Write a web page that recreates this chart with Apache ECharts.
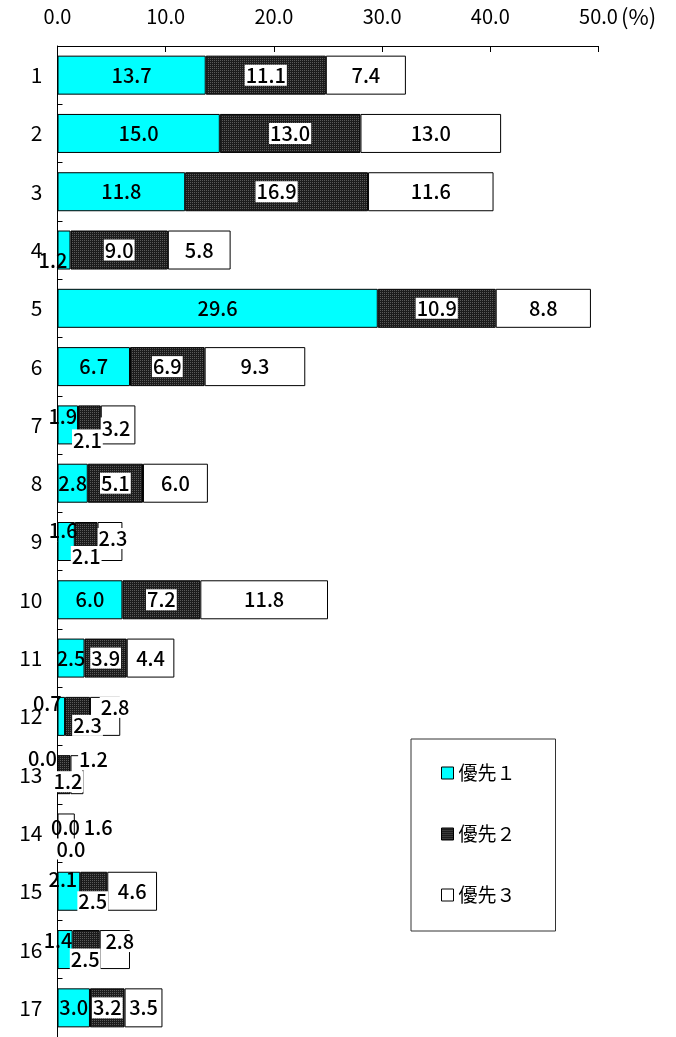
<!DOCTYPE html>
<html>
<head>
<meta charset="utf-8">
<script src="https://cdn.jsdelivr.net/npm/echarts@6/dist/echarts.min.js"></script>
<style>
  html, body { margin: 0; padding: 0; background: #fff; }
  #chart { width: 676px; height: 1037px; }
</style>
</head>
<body>
<div id="chart"></div>
<script>
// Item numbers (rows, top to bottom)
const categories = ['1','2','3','4','5','6','7','8','9','10','11','12','13','14','15','16','17'];
// Share (%) for each priority
const priority1 = [13.7, 15.0, 11.8, 1.2, 29.6, 6.7, 1.9, 2.8, 1.6, 6.0, 2.5, 0.7, 0.0, 0.0, 2.1, 1.4, 3.0];
const priority2 = [11.1, 13.0, 16.9, 9.0, 10.9, 6.9, 2.1, 5.1, 2.1, 7.2, 3.9, 2.3, 1.2, 0.0, 2.5, 2.5, 3.2];
const priority3 = [7.4, 13.0, 11.6, 5.8, 8.8, 9.3, 3.2, 6.0, 2.3, 11.8, 4.4, 2.8, 1.2, 1.6, 4.6, 2.8, 3.5];
const seriesNames = ['優先１', '優先２', '優先３'];
const xTicks = [0, 10, 20, 30, 40, 50];

const FONT = '"Noto Sans CJK JP", "Noto Sans", sans-serif';

// Label nudges for the narrow rows, where the value labels sit around the bar
// index -> [[dx,dy] for priority 1, priority 2, priority 3]
const nudges = {
  3:  [[-11, 10.5], null, null],
  6:  [[-5, -9], [-2, 15], [-2, 3]],
  8:  [[-3, -11], [0, 15], [3, -3]],
  11: [[-14, -12.5], [10, 9], [10, -9]],
  12: [[-15, -16], [4, 7], [16.5, -15]],
  13: [[8, -5.5], [13.5, 16], [32, -5.5]],
  14: [[-6, -11.5], [-1, 10.5], null],
  15: [[-7, -9], [-1, 9.5], [5, -8]]
};

// Dotted dark fill for priority 2
function makeDotPattern() {
  const c = document.createElement('canvas');
  c.width = 2; c.height = 2;
  const g = c.getContext('2d');
  g.fillStyle = '#1c1c1c';
  g.fillRect(0, 0, 2, 2);
  g.fillStyle = '#5a5a5a';
  g.fillRect(0, 0, 1, 1);
  return c;
}
const darkFill = { image: makeDotPattern(), repeat: 'repeat' };

const fills = ['#00ffff', darkFill, '#ffffff'];
const values = [priority1, priority2, priority3];

function buildData(k) {
  return values[k].map((v, i) => {
    const n = nudges[i] && nudges[i][k];
    const item = { value: v };
    if (n) item.label = { offset: n };
    return item;
  });
}

const series = values.map((vals, k) => ({
  name: seriesNames[k],
  type: 'bar',
  stack: 'total',
  barWidth: 39,
  data: buildData(k),
  itemStyle: { color: fills[k], borderColor: '#000', borderWidth: 1 },
  label: {
    show: true,
    position: 'inside',
    formatter: p => p.value.toFixed(1),
    color: '#000',
    fontFamily: FONT,
    fontSize: 20,
    fontWeight: 500,
    backgroundColor: k === 0 ? 'transparent' : '#fff',
    padding: k === 0 ? 0 : [1, 1, 0, 1]
  },
  emphasis: { disabled: true }
}));

const chart = echarts.init(document.getElementById('chart'), null, { renderer: 'canvas' });
chart.setOption({
  animation: false,
  backgroundColor: '#fff',
  grid: { left: 57.5, right: 77.5, top: 46, bottom: -4, containLabel: false },
  xAxis: {
    type: 'value',
    position: 'top',
    min: 0,
    max: 50,
    interval: 10,
    axisLine: { show: true, lineStyle: { color: '#000', width: 1 } },
    axisTick: { show: true, inside: true, length: 6, lineStyle: { color: '#000' } },
    splitLine: { show: false },
    axisLabel: {
      color: '#000',
      fontFamily: FONT,
      fontSize: 20,
      margin: 20,
      formatter: v => xTicks.includes(v) ? v.toFixed(1) : ''
    }
  },
  yAxis: {
    type: 'category',
    inverse: true,
    data: categories,
    axisLine: { show: true, lineStyle: { color: '#000', width: 1 } },
    axisTick: { show: true, inside: true, length: 5, lineStyle: { color: '#000' } },
    axisLabel: { color: '#000', fontFamily: FONT, fontSize: 21, margin: 15 }
  },
  legend: {
    orient: 'vertical',
    left: 411,
    top: 739,
    padding: [24, 40, 26, 30],
    itemGap: 41,
    itemWidth: 12,
    itemHeight: 12,
    borderColor: '#333',
    borderWidth: 1,
    icon: 'rect',
    selectedMode: false,
    textStyle: { color: '#000', fontFamily: FONT, fontSize: 19, lineHeight: 20 },
    data: seriesNames.map((n, k) => ({
      name: n,
      itemStyle: { color: fills[k], borderColor: '#000', borderWidth: 1 }
    }))
  },
  graphic: [{
    type: 'text',
    left: 621,
    top: 6,
    style: { text: '(%)', fill: '#000', font: '22px ' + FONT }
  }],
  series: series
});
</script>
</body>
</html>
